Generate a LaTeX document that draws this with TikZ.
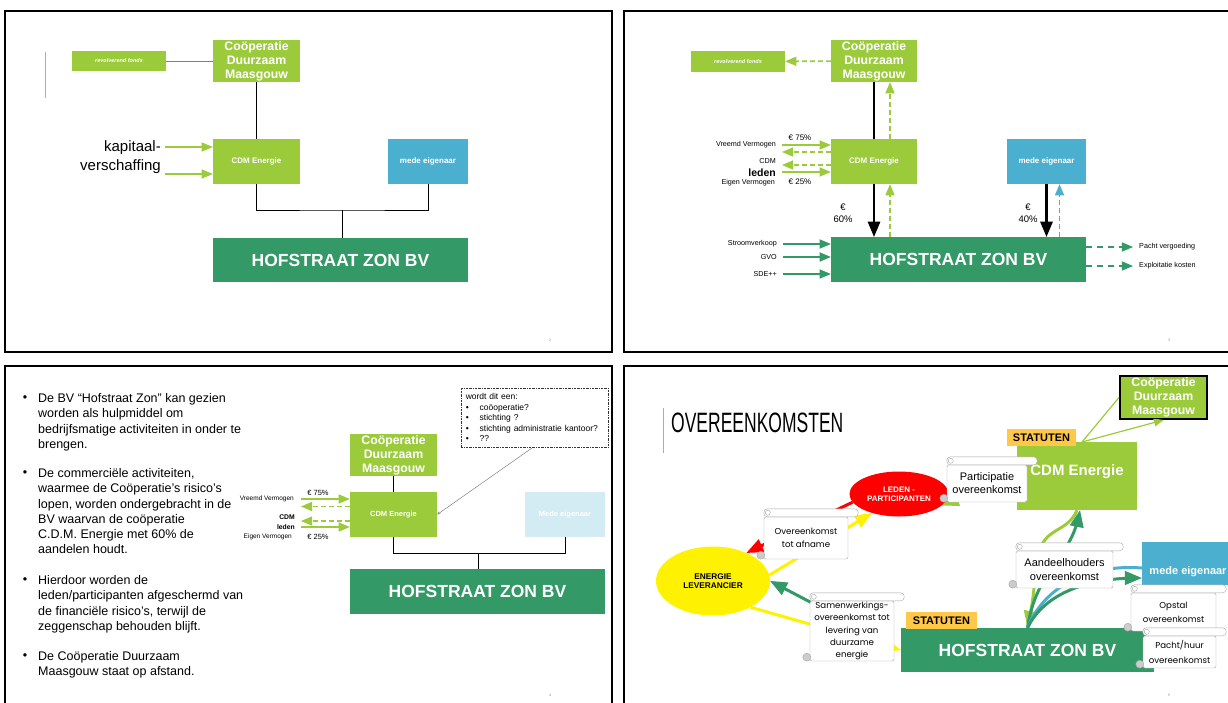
\documentclass[tikz,border=0pt]{standalone}
\usepackage{fontspec}
\usepackage{graphicx}
\setmainfont{Liberation Sans}
\newfontfamily\gothic{Poppins}
\usetikzlibrary{shapes}
\usetikzlibrary{arrows}
\usetikzlibrary{calc}

\definecolor{lgreen}{HTML}{9BCB3B}
\definecolor{dgreen}{HTML}{339966}
\definecolor{medeblue}{HTML}{4BB0D0}
\definecolor{paleblue}{HTML}{D3EBF3}
\definecolor{statgold}{HTML}{FFC848}

\newcommand{\fsz}[2]{\fontsize{#1}{#2}\selectfont}

\tikzset{
  slideframe/.style={draw=black, line width=1.6pt},
  lgbox/.style={rectangle, fill=lgreen, text=white, align=center, inner sep=0pt},
  coopbox/.style={lgbox, minimum width=87pt, minimum height=42pt, font=\bfseries\fsz{12.3}{14}},
  fondsbox/.style={lgbox, minimum width=94pt, minimum height=20pt, font=\bfseries\itshape\fsz{5.5}{6}},
  smallbox/.style={minimum width=87pt, minimum height=45pt, font=\bfseries\fsz{8}{9}},
  hofbox/.style={rectangle, fill=dgreen, text=white, inner sep=0pt, minimum width=255pt, minimum height=45pt, font=\bfseries\fsz{17.5}{20}},
  bluebox/.style={rectangle, fill=medeblue, text=white, inner sep=0pt},
  statbox/.style={rectangle, fill=statgold, inner sep=0pt, minimum width=70pt, minimum height=17pt, font=\bfseries\fsz{11}{12}},
  lgarrow/.style={draw=lgreen, line width=1.6pt, -triangle 45},
  lgdash/.style={lgarrow, dash pattern=on 5pt off 3pt},
  dgarrow/.style={draw=dgreen, line width=1.6pt, -triangle 45},
  dgdash/.style={dgarrow, dash pattern=on 6pt off 5pt},
  bluedash/.style={draw=medeblue, line width=1.6pt, -triangle 45, dash pattern=on 5pt off 3pt},
  blkarrow/.style={draw=black, line width=2.6pt, -triangle 45},
  joinline/.style={draw=black, line width=1pt},
  lab/.style={inner sep=0pt, font=\fsz{7.2}{8.5}},
  bullettext/.style={inner sep=0pt, align=left, font=\fsz{12.5}{15.2}},
  pagenr/.style={inner sep=0pt, text=gray, font=\fsz{3.5}{4}},
  fat/.style={line width=3pt, -triangle 45},
  scrollbody/.style={draw=gray!70, fill=white, rounded corners=1.5pt, inner sep=0pt, align=center},
  scrollroll/.style={draw=gray!70, fill=white, rounded corners=3.5pt},
}

\begin{document}
\begin{tikzpicture}[x=1pt,y=-1pt]
\useasboundingbox (0,0) rectangle (1228,702);

% slide frames
\draw[slideframe] (5,11) rectangle (612,352);
\draw[slideframe] (624,11) rectangle (1240,352);
\draw[slideframe] (5,366) rectangle (612,712);
\draw[slideframe] (624,366) rectangle (1240,712);

% ---------- slide 1 ----------
\draw[lgreen, line width=0.6pt] (45,52) -- (45,98);
\node[fondsbox] (fonds1) at (119,61) {revolverend fonds};
\node[coopbox] (coop1) at (256.5,61) {Coöperatie\\Duurzaam\\Maasgouw};
\node[lgbox, smallbox] (cdm1) at (256.5,161.5) {CDM Energie};
\node[bluebox, minimum width=80pt, minimum height=45pt, font=\bfseries\fsz{8}{9}] (mede1) at (428,161.5) {mede eigenaar};
\node[hofbox, minimum height=44pt] (hof1) at (340.5,260) {HOFSTRAAT ZON BV};

\draw[gray, line width=0.6pt] (fonds1) -- (coop1);
\draw[joinline] (coop1) -- (cdm1);
\coordinate (j1) at (342,210);
\draw[joinline] (cdm1.south) |- (j1) -| (mede1.south);
\draw[joinline] (j1) -- (j1 |- hof1.north);

\node[anchor=east, align=right, inner sep=0pt, font=\fsz{15}{19}] (kap1) at (161,157) {kapitaal-\\verschaffing};
\coordinate (k1a) at (165,147);
\coordinate (k1b) at (165,174);
\draw[lgarrow] (k1a) -- (k1a -| cdm1.west);
\draw[lgarrow] (k1b) -- (k1b -| cdm1.west);
\node[pagenr] (nr1) at (550,340) {2};

% ---------- slide 2 ----------
\node[fondsbox, minimum height=21pt] (fonds2) at (738,61.5) {revolverend fonds};
\node[coopbox, minimum width=86pt] (coop2) at (874,61) {Coöperatie\\Duurzaam\\Maasgouw};
\node[lgbox, smallbox, minimum width=86pt] (cdm2) at (874,161.5) {CDM Energie};
\node[bluebox, minimum width=79pt, minimum height=45pt, font=\bfseries\fsz{8}{9}] (mede2) at (1046.5,161.5) {mede eigenaar};
\node[hofbox] (hof2) at (958.5,259.5) {HOFSTRAAT ZON BV};

\draw[lgdash] (coop2) -- (fonds2);
\draw[draw=black, line width=1.5pt] (coop2) -- (cdm2);
\draw[lgdash] ([xshift=16pt]cdm2.north) -- ([xshift=16pt]coop2.south);
\draw[blkarrow] (cdm2.south) -- (cdm2.south |- hof2.north);
\draw[lgdash] ([xshift=16pt]cdm2.south |- hof2.north) -- ([xshift=16pt]cdm2.south);
\draw[blkarrow] (mede2.south) -- (mede2.south |- hof2.north);
\draw[bluedash] ([xshift=13pt]mede2.south |- hof2.north) -- ([xshift=13pt]mede2.south);
\node[inner sep=0pt, align=center, font=\fsz{9.5}{12}] (pct60) at (843,213) {€\\60\%};
\node[inner sep=0pt, align=center, font=\fsz{9.5}{12}] (pct40) at (1028,213) {€\\40\%};

% vermogen
\coordinate (vv2) at (782,145);
\coordinate (vd2) at (782,152);
\coordinate (ld2) at (782,165);
\coordinate (ev2) at (782,172);
\draw[lgarrow] (vv2) -- (vv2 -| cdm2.west);
\draw[lgdash] (vd2 -| cdm2.west) -- (vd2);
\draw[lgdash] (ld2 -| cdm2.west) -- (ld2);
\draw[lgarrow] (ev2) -- (ev2 -| cdm2.west);
\node[lab, anchor=east] (vvlab2) at (776,145) {Vreemd Vermogen};
\node[lab, anchor=east] (cdmlab2) at (776,161) {CDM};
\node[lab, anchor=east, font=\bfseries\fsz{10.5}{12}] (ledlab2) at (776,173) {leden};
\node[lab, anchor=east] (evlab2) at (775,182.5) {Eigen Vermogen};
\node[lab, font=\fsz{8}{9}] (p75b) at (800,138) {€ 75\%};
\node[lab, font=\fsz{8}{9}] (p25b) at (800,182) {€ 25\%};

% inkomsten en uitgaven
\foreach \y/\txt in {244/Stroomverkoop, 257/GVO, 274/SDE++} {
  \node[lab, anchor=east] (in\y) at (777,\y) {\txt};
  \coordinate (i\y) at (783,\y);
  \draw[dgarrow] (i\y) -- (i\y -| hof2.west);
}
\foreach \y/\txt in {247/Pacht vergoeding, 266/Exploitatie kosten} {
  \coordinate (o\y) at (1133,\y);
  \draw[dgdash] (o\y -| hof2.east) -- (o\y);
  \node[lab, anchor=west] (out\y) at (1139,\y) {\txt};
}
\node[pagenr] (nr2) at (1169,340) {3};

% ---------- slide 3 ----------
\node[bullettext] (d1) at (25,399) {•};
\node[bullettext] (d2) at (25,474) {•};
\node[bullettext] (d3) at (25,581) {•};
\node[bullettext] (d4) at (25,657) {•};
\node[bullettext, anchor=north west] (b1) at (38,393.5) {De BV “Hofstraat Zon” kan gezien\\worden als hulpmiddel om\\bedrijfsmatige activiteiten in onder te\\brengen.};
\node[bullettext, anchor=north west] (b2) at (38,468.5) {De commerciële activiteiten,\\waarmee de Coöperatie’s risico’s\\lopen, worden ondergebracht in de\\BV waarvan de coöperatie\\C.D.M. Energie met 60\% de\\aandelen houdt.};
\node[bullettext, anchor=north west] (b3) at (38,575.5) {Hierdoor worden de\\leden/participanten afgeschermd van\\de financiële risico’s, terwijl de\\zeggenschap behouden blijft.};
\node[bullettext, anchor=north west] (b4) at (38,651.5) {De Coöperatie Duurzaam\\Maasgouw staat op afstand.};

\node[coopbox] (coop3) at (393.5,455) {Coöperatie\\Duurzaam\\Maasgouw};
\node[lgbox, smallbox, font=\bfseries\fsz{7.5}{9}] (cdm3) at (393.5,514.5) {CDM Energie};
\node[rectangle, fill=paleblue, text=white, inner sep=0pt, minimum width=80pt, minimum height=45pt, font=\bfseries\fsz{7.5}{9}] (mede3) at (565,514.5) {Mede eigenaar};
\node[hofbox] (hof3) at (477.5,591.5) {HOFSTRAAT ZON BV};

\draw[joinline, line width=1.2pt] (coop3) -- (cdm3);
\coordinate (j3) at (478,553);
\draw[joinline] (cdm3.south) |- (j3) -| (mede3.south);
\draw[joinline] (j3) -- (j3 |- hof3.north);

\coordinate (vv3) at (301,499);
\coordinate (vd3) at (301,506.5);
\coordinate (ld3) at (301,521);
\coordinate (ev3) at (301,527);
\draw[lgarrow] (vv3) -- (vv3 -| cdm3.west);
\draw[lgdash] (vd3 -| cdm3.west) -- (vd3);
\draw[lgdash] (ld3 -| cdm3.west) -- (ld3);
\draw[lgarrow] (ev3) -- (ev3 -| cdm3.west);
\node[lab, anchor=east, font=\fsz{6.5}{7.5}] (vvlab3) at (294,499) {Vreemd Vermogen};
\node[lab, anchor=east, font=\bfseries\fsz{6.8}{7.5}] (cdmlab3) at (295,517) {CDM};
\node[lab, anchor=east, font=\bfseries\fsz{6.8}{7.5}] (ledlab3) at (295,527) {leden};
\node[lab, anchor=east, font=\fsz{6.5}{7.5}] (evlab3) at (292,536.5) {Eigen Vermogen};
\node[lab, font=\fsz{7.5}{8.5}] (p75c) at (318,492.5) {€ 75\%};
\node[lab, font=\fsz{7.5}{8.5}] (p25c) at (318,536.5) {€ 25\%};

\node[draw=black!80, line width=0.5pt, dash pattern=on 2pt off 1pt on 0.5pt off 1pt,
      anchor=north west, inner xsep=4.5pt, inner ysep=0pt, text width=138pt, minimum height=59pt,
      align=left, font=\fsz{8.5}{10.5}] (vraag3) at (461,388)
  {wordt dit een:\\
   \makebox[14pt][l]{•}coöoperatie?\\
   \makebox[14pt][l]{•}stichting ?\\
   \makebox[14pt][l]{•}stichting administratie kantoor?\\
   \makebox[14pt][l]{•}??};
\coordinate (va3) at (532,448);
\draw[gray, line width=0.5pt, -stealth] (va3) -- (cdm3.east);
\node[pagenr] (nr3) at (550,695) {4};

% ---------- slide 4 ----------
\draw[lgreen, line width=0.8pt] (663,408) -- (663,453);
\node[anchor=west, inner sep=0pt, font=\fsz{28}{30}] (title4) at (671,423) {\scalebox{0.625}[1]{OVEREENKOMSTEN}};

\node[lgbox, minimum width=120pt, minimum height=68pt, font=\bfseries\fsz{15}{18}, text depth=12pt] (cdm4) at (1077,476) {CDM Energie};
\node[coopbox, draw=black, line width=2pt, minimum height=43pt] (coop4) at (1163.5,397.5) {Coöperatie\\Duurzaam\\Maasgouw};
\node[statbox, minimum width=69pt] (stat4a) at (1041.5,437.5) {STATUTEN};
\node[bluebox, minimum width=92pt, minimum height=43pt, font=\bfseries\fsz{11}{12}, text height=24pt, text depth=2pt] (mede4) at (1188,563.5) {mede eigenaar};
\node[hofbox, minimum width=253pt, minimum height=44pt] (hof4) at (1027.5,650) {HOFSTRAAT ZON BV};
\node[statbox, minimum width=71pt] (stat4b) at (941.5,620.5) {STATUTEN};
\node[ellipse, fill=red, text=white, inner sep=0pt, minimum width=99pt, minimum height=45pt, align=center, font=\bfseries\fsz{8}{9}] (leden4) at (899,494) {LEDEN -\\PARTICIPANTEN};
\node[ellipse, fill=yellow, inner sep=0pt, minimum width=114pt, minimum height=69pt, align=center, font=\bfseries\fsz{8.3}{9.5}] (energie4) at (713,581) {ENERGIE\\LEVERANCIER};

% verbindingen
\coordinate (c4) at (1082,442);
\draw[lgreen, line width=1.2pt] (c4) -- (coop4.west);
\draw[lgreen, line width=1.2pt, -triangle 45] (c4) -- (coop4.south);
\draw[red, fat] (leden4.190) -- (energie4.40);
\draw[yellow, fat] (energie4.6) -- (leden4.215);
\draw[lgreen, fat] (cdm4.west) -- (leden4.-15);
\coordinate (sw4) at (812,603);
\draw[dgreen, fat] (sw4) -- (energie4.east);
\draw[yellow, fat] (energie4.-35) -- (hof4.west);
\draw[lgreen, fat] (cdm4.south) .. controls (1066,536) and (1040,524) .. (1036,566) .. controls (1033,600) .. (hof4.north);
\draw[dgreen, fat] (hof4.north) .. controls (1036,570) and (1070,560) .. ([xshift=3pt]cdm4.south);
\draw[medeblue, line width=3pt] (mede4.west |- 0,568) .. controls (1090,564) and (1045,585) .. (hof4.north);
\draw[dgreen, fat] (hof4.north) .. controls (1045,592) and (1090,578) .. (mede4.west |- 0,578);

% scrolls
\foreach \n/\x/\y/\w/\h/\f/\txt in {
    part4/987/483.5/80/37/\fsz{11}{13}/{Participatie\\overeenkomst},
    afname4/806/538/84/42/\gothic\fsz{8.6}{12.5}/{Overeenkomst\\tot afname},
    samen4/852/631/84/60/\gothic\fsz{8.6}{12.3}/{Samenwerkings-\\overeenkomst tot\\levering van\\duurzame\\energie},
    aandeel4/1064.5/569.5/97/37/\fsz{11}{13.5}/{Aandeelhouders\\overeenkomst},
    opstal4/1173.5/612/85/38/\gothic\fsz{8.6}{14}/{Opstal\\overeenkomst},
    pacht4/1179.5/652/73/32/\gothic\fsz{8.6}{14.5}/{Pacht/huur\\overeenkomst}} {
  \node[scrollbody, minimum width=\w pt, minimum height=\h pt, font=\f] (\n) at (\x,\y) {\txt};
  \draw[scrollroll] ($(\n.north west)+(0,-8)$) rectangle ($(\n.north east)+(10,0)$);
  \draw[gray!70] ($(\n.north west)+(4,-4)$) circle [radius=2.5pt];
  \draw[gray!70, fill=gray!40] ($(\n.south west)+(-3,-4)$) circle [radius=4pt];
}
\node[pagenr] (nr4) at (1169,695) {5};
\end{tikzpicture}
\end{document}
